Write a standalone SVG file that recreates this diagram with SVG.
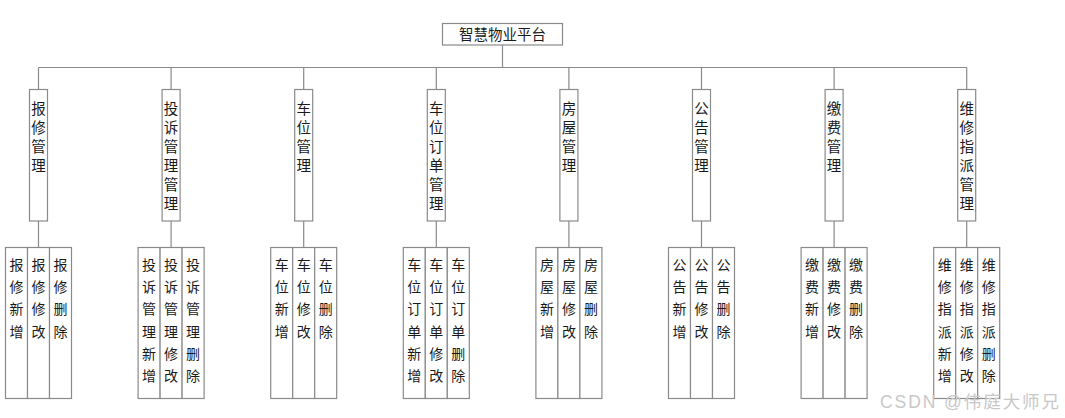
<svg xmlns="http://www.w3.org/2000/svg" width="1065" height="418" viewBox="0 0 1065 418">
<style>
.bx{fill:#fff;stroke:#8a8a8a;stroke-width:1.2}
.ln{fill:none;stroke:#8a8a8a;stroke-width:1.2}
text{font-family:"Noto Sans CJK SC","Liberation Sans",sans-serif;fill:#1a1a1a;text-anchor:middle}
.t0{font-size:14.5px}
.t1{font-size:14.5px}
.t2{font-size:14px}
.wm{font-family:"Liberation Sans","Noto Sans CJK SC",sans-serif;font-size:17.5px;fill:#c8c8c8;text-anchor:start}
</style>
<g id="connectors">
<path class="ln" d="M502.5 45V67.5M38.5 67.5H966.7"/>
<path class="ln" d="M38.5 67.5V89M171.1 67.5V89M303.7 67.5V89M436.3 67.5V89M568.9 67.5V89M701.5 67.5V89M834.1 67.5V89M966.7 67.5V89"/>
<path class="ln" d="M38.5 221V247.5M171.1 221V247.5M303.7 221V247.5M436.3 221V247.5M568.9 221V247.5M701.5 221V247.5M834.1 221V247.5M966.7 221V247.5"/>
</g>
<g id="root"><rect class="bx" x="442.5" y="23.5" width="120" height="21.5"/><text class="t0" x="502.5" y="40">智慧物业平台</text></g>

<g id="n1"><rect class="bx" x="29.5" y="89.5" width="18" height="131.5"/><text class="t1"><tspan x="38.5" y="114">报</tspan><tspan x="38.5" y="133">修</tspan><tspan x="38.5" y="152">管</tspan><tspan x="38.5" y="171">理</tspan></text></g>
<g id="n2"><rect class="bx" x="162.1" y="89.5" width="18" height="131.5"/><text class="t1"><tspan x="171.1" y="114">投</tspan><tspan x="171.1" y="133">诉</tspan><tspan x="171.1" y="152">管</tspan><tspan x="171.1" y="171">理</tspan><tspan x="171.1" y="190">管</tspan><tspan x="171.1" y="209">理</tspan></text></g>
<g id="n3"><rect class="bx" x="294.7" y="89.5" width="18" height="131.5"/><text class="t1"><tspan x="303.7" y="114">车</tspan><tspan x="303.7" y="133">位</tspan><tspan x="303.7" y="152">管</tspan><tspan x="303.7" y="171">理</tspan></text></g>
<g id="n4"><rect class="bx" x="427.3" y="89.5" width="18" height="131.5"/><text class="t1"><tspan x="436.3" y="114">车</tspan><tspan x="436.3" y="133">位</tspan><tspan x="436.3" y="152">订</tspan><tspan x="436.3" y="171">单</tspan><tspan x="436.3" y="190">管</tspan><tspan x="436.3" y="209">理</tspan></text></g>
<g id="n5"><rect class="bx" x="559.9" y="89.5" width="18" height="131.5"/><text class="t1"><tspan x="568.9" y="114">房</tspan><tspan x="568.9" y="133">屋</tspan><tspan x="568.9" y="152">管</tspan><tspan x="568.9" y="171">理</tspan></text></g>
<g id="n6"><rect class="bx" x="692.5" y="89.5" width="18" height="131.5"/><text class="t1"><tspan x="701.5" y="114">公</tspan><tspan x="701.5" y="133">告</tspan><tspan x="701.5" y="152">管</tspan><tspan x="701.5" y="171">理</tspan></text></g>
<g id="n7"><rect class="bx" x="825.1" y="89.5" width="18" height="131.5"/><text class="t1"><tspan x="834.1" y="114">缴</tspan><tspan x="834.1" y="133">费</tspan><tspan x="834.1" y="152">管</tspan><tspan x="834.1" y="171">理</tspan></text></g>
<g id="n8"><rect class="bx" x="957.7" y="89.5" width="18" height="131.5"/><text class="t1"><tspan x="966.7" y="114">维</tspan><tspan x="966.7" y="133">修</tspan><tspan x="966.7" y="152">指</tspan><tspan x="966.7" y="171">派</tspan><tspan x="966.7" y="190">管</tspan><tspan x="966.7" y="209">理</tspan></text></g>

<g id="n1a"><rect class="bx" x="5.5" y="247.5" width="22" height="151"/><text class="t2"><tspan x="16.5" y="270">报</tspan><tspan x="16.5" y="292.2">修</tspan><tspan x="16.5" y="314.4">新</tspan><tspan x="16.5" y="336.6">增</tspan></text></g>
<g id="n1b"><rect class="bx" x="27.5" y="247.5" width="22" height="151"/><text class="t2"><tspan x="38.5" y="270">报</tspan><tspan x="38.5" y="292.2">修</tspan><tspan x="38.5" y="314.4">修</tspan><tspan x="38.5" y="336.6">改</tspan></text></g>
<g id="n1c"><rect class="bx" x="49.5" y="247.5" width="22" height="151"/><text class="t2"><tspan x="60.5" y="270">报</tspan><tspan x="60.5" y="292.2">修</tspan><tspan x="60.5" y="314.4">删</tspan><tspan x="60.5" y="336.6">除</tspan></text></g>

<g id="n2a"><rect class="bx" x="138.1" y="247.5" width="22" height="151"/><text class="t2"><tspan x="149.1" y="270">投</tspan><tspan x="149.1" y="292.2">诉</tspan><tspan x="149.1" y="314.4">管</tspan><tspan x="149.1" y="336.6">理</tspan><tspan x="149.1" y="358.8">新</tspan><tspan x="149.1" y="381">增</tspan></text></g>
<g id="n2b"><rect class="bx" x="160.1" y="247.5" width="22" height="151"/><text class="t2"><tspan x="171.1" y="270">投</tspan><tspan x="171.1" y="292.2">诉</tspan><tspan x="171.1" y="314.4">管</tspan><tspan x="171.1" y="336.6">理</tspan><tspan x="171.1" y="358.8">修</tspan><tspan x="171.1" y="381">改</tspan></text></g>
<g id="n2c"><rect class="bx" x="182.1" y="247.5" width="22" height="151"/><text class="t2"><tspan x="193.1" y="270">投</tspan><tspan x="193.1" y="292.2">诉</tspan><tspan x="193.1" y="314.4">管</tspan><tspan x="193.1" y="336.6">理</tspan><tspan x="193.1" y="358.8">删</tspan><tspan x="193.1" y="381">除</tspan></text></g>

<g id="n3a"><rect class="bx" x="270.7" y="247.5" width="22" height="151"/><text class="t2"><tspan x="281.7" y="270">车</tspan><tspan x="281.7" y="292.2">位</tspan><tspan x="281.7" y="314.4">新</tspan><tspan x="281.7" y="336.6">增</tspan></text></g>
<g id="n3b"><rect class="bx" x="292.7" y="247.5" width="22" height="151"/><text class="t2"><tspan x="303.7" y="270">车</tspan><tspan x="303.7" y="292.2">位</tspan><tspan x="303.7" y="314.4">修</tspan><tspan x="303.7" y="336.6">改</tspan></text></g>
<g id="n3c"><rect class="bx" x="314.7" y="247.5" width="22" height="151"/><text class="t2"><tspan x="325.7" y="270">车</tspan><tspan x="325.7" y="292.2">位</tspan><tspan x="325.7" y="314.4">删</tspan><tspan x="325.7" y="336.6">除</tspan></text></g>

<g id="n4a"><rect class="bx" x="403.3" y="247.5" width="22" height="151"/><text class="t2"><tspan x="414.3" y="270">车</tspan><tspan x="414.3" y="292.2">位</tspan><tspan x="414.3" y="314.4">订</tspan><tspan x="414.3" y="336.6">单</tspan><tspan x="414.3" y="358.8">新</tspan><tspan x="414.3" y="381">增</tspan></text></g>
<g id="n4b"><rect class="bx" x="425.3" y="247.5" width="22" height="151"/><text class="t2"><tspan x="436.3" y="270">车</tspan><tspan x="436.3" y="292.2">位</tspan><tspan x="436.3" y="314.4">订</tspan><tspan x="436.3" y="336.6">单</tspan><tspan x="436.3" y="358.8">修</tspan><tspan x="436.3" y="381">改</tspan></text></g>
<g id="n4c"><rect class="bx" x="447.3" y="247.5" width="22" height="151"/><text class="t2"><tspan x="458.3" y="270">车</tspan><tspan x="458.3" y="292.2">位</tspan><tspan x="458.3" y="314.4">订</tspan><tspan x="458.3" y="336.6">单</tspan><tspan x="458.3" y="358.8">删</tspan><tspan x="458.3" y="381">除</tspan></text></g>

<g id="n5a"><rect class="bx" x="535.9" y="247.5" width="22" height="151"/><text class="t2"><tspan x="546.9" y="270">房</tspan><tspan x="546.9" y="292.2">屋</tspan><tspan x="546.9" y="314.4">新</tspan><tspan x="546.9" y="336.6">增</tspan></text></g>
<g id="n5b"><rect class="bx" x="557.9" y="247.5" width="22" height="151"/><text class="t2"><tspan x="568.9" y="270">房</tspan><tspan x="568.9" y="292.2">屋</tspan><tspan x="568.9" y="314.4">修</tspan><tspan x="568.9" y="336.6">改</tspan></text></g>
<g id="n5c"><rect class="bx" x="579.9" y="247.5" width="22" height="151"/><text class="t2"><tspan x="590.9" y="270">房</tspan><tspan x="590.9" y="292.2">屋</tspan><tspan x="590.9" y="314.4">删</tspan><tspan x="590.9" y="336.6">除</tspan></text></g>

<g id="n6a"><rect class="bx" x="668.5" y="247.5" width="22" height="151"/><text class="t2"><tspan x="679.5" y="270">公</tspan><tspan x="679.5" y="292.2">告</tspan><tspan x="679.5" y="314.4">新</tspan><tspan x="679.5" y="336.6">增</tspan></text></g>
<g id="n6b"><rect class="bx" x="690.5" y="247.5" width="22" height="151"/><text class="t2"><tspan x="701.5" y="270">公</tspan><tspan x="701.5" y="292.2">告</tspan><tspan x="701.5" y="314.4">修</tspan><tspan x="701.5" y="336.6">改</tspan></text></g>
<g id="n6c"><rect class="bx" x="712.5" y="247.5" width="22" height="151"/><text class="t2"><tspan x="723.5" y="270">公</tspan><tspan x="723.5" y="292.2">告</tspan><tspan x="723.5" y="314.4">删</tspan><tspan x="723.5" y="336.6">除</tspan></text></g>

<g id="n7a"><rect class="bx" x="801.1" y="247.5" width="22" height="151"/><text class="t2"><tspan x="812.1" y="270">缴</tspan><tspan x="812.1" y="292.2">费</tspan><tspan x="812.1" y="314.4">新</tspan><tspan x="812.1" y="336.6">增</tspan></text></g>
<g id="n7b"><rect class="bx" x="823.1" y="247.5" width="22" height="151"/><text class="t2"><tspan x="834.1" y="270">缴</tspan><tspan x="834.1" y="292.2">费</tspan><tspan x="834.1" y="314.4">修</tspan><tspan x="834.1" y="336.6">改</tspan></text></g>
<g id="n7c"><rect class="bx" x="845.1" y="247.5" width="22" height="151"/><text class="t2"><tspan x="856.1" y="270">缴</tspan><tspan x="856.1" y="292.2">费</tspan><tspan x="856.1" y="314.4">删</tspan><tspan x="856.1" y="336.6">除</tspan></text></g>

<g id="n8a"><rect class="bx" x="933.7" y="247.5" width="22" height="151"/><text class="t2"><tspan x="944.7" y="270">维</tspan><tspan x="944.7" y="292.2">修</tspan><tspan x="944.7" y="314.4">指</tspan><tspan x="944.7" y="336.6">派</tspan><tspan x="944.7" y="358.8">新</tspan><tspan x="944.7" y="381">增</tspan></text></g>
<g id="n8b"><rect class="bx" x="955.7" y="247.5" width="22" height="151"/><text class="t2"><tspan x="966.7" y="270">维</tspan><tspan x="966.7" y="292.2">修</tspan><tspan x="966.7" y="314.4">指</tspan><tspan x="966.7" y="336.6">派</tspan><tspan x="966.7" y="358.8">修</tspan><tspan x="966.7" y="381">改</tspan></text></g>
<g id="n8c"><rect class="bx" x="977.7" y="247.5" width="22" height="151"/><text class="t2"><tspan x="988.7" y="270">维</tspan><tspan x="988.7" y="292.2">修</tspan><tspan x="988.7" y="314.4">指</tspan><tspan x="988.7" y="336.6">派</tspan><tspan x="988.7" y="358.8">删</tspan><tspan x="988.7" y="381">除</tspan></text></g>

<text class="wm" x="880" y="407.5" textLength="179">CSDN @伟庭大师兄</text>
</svg>
